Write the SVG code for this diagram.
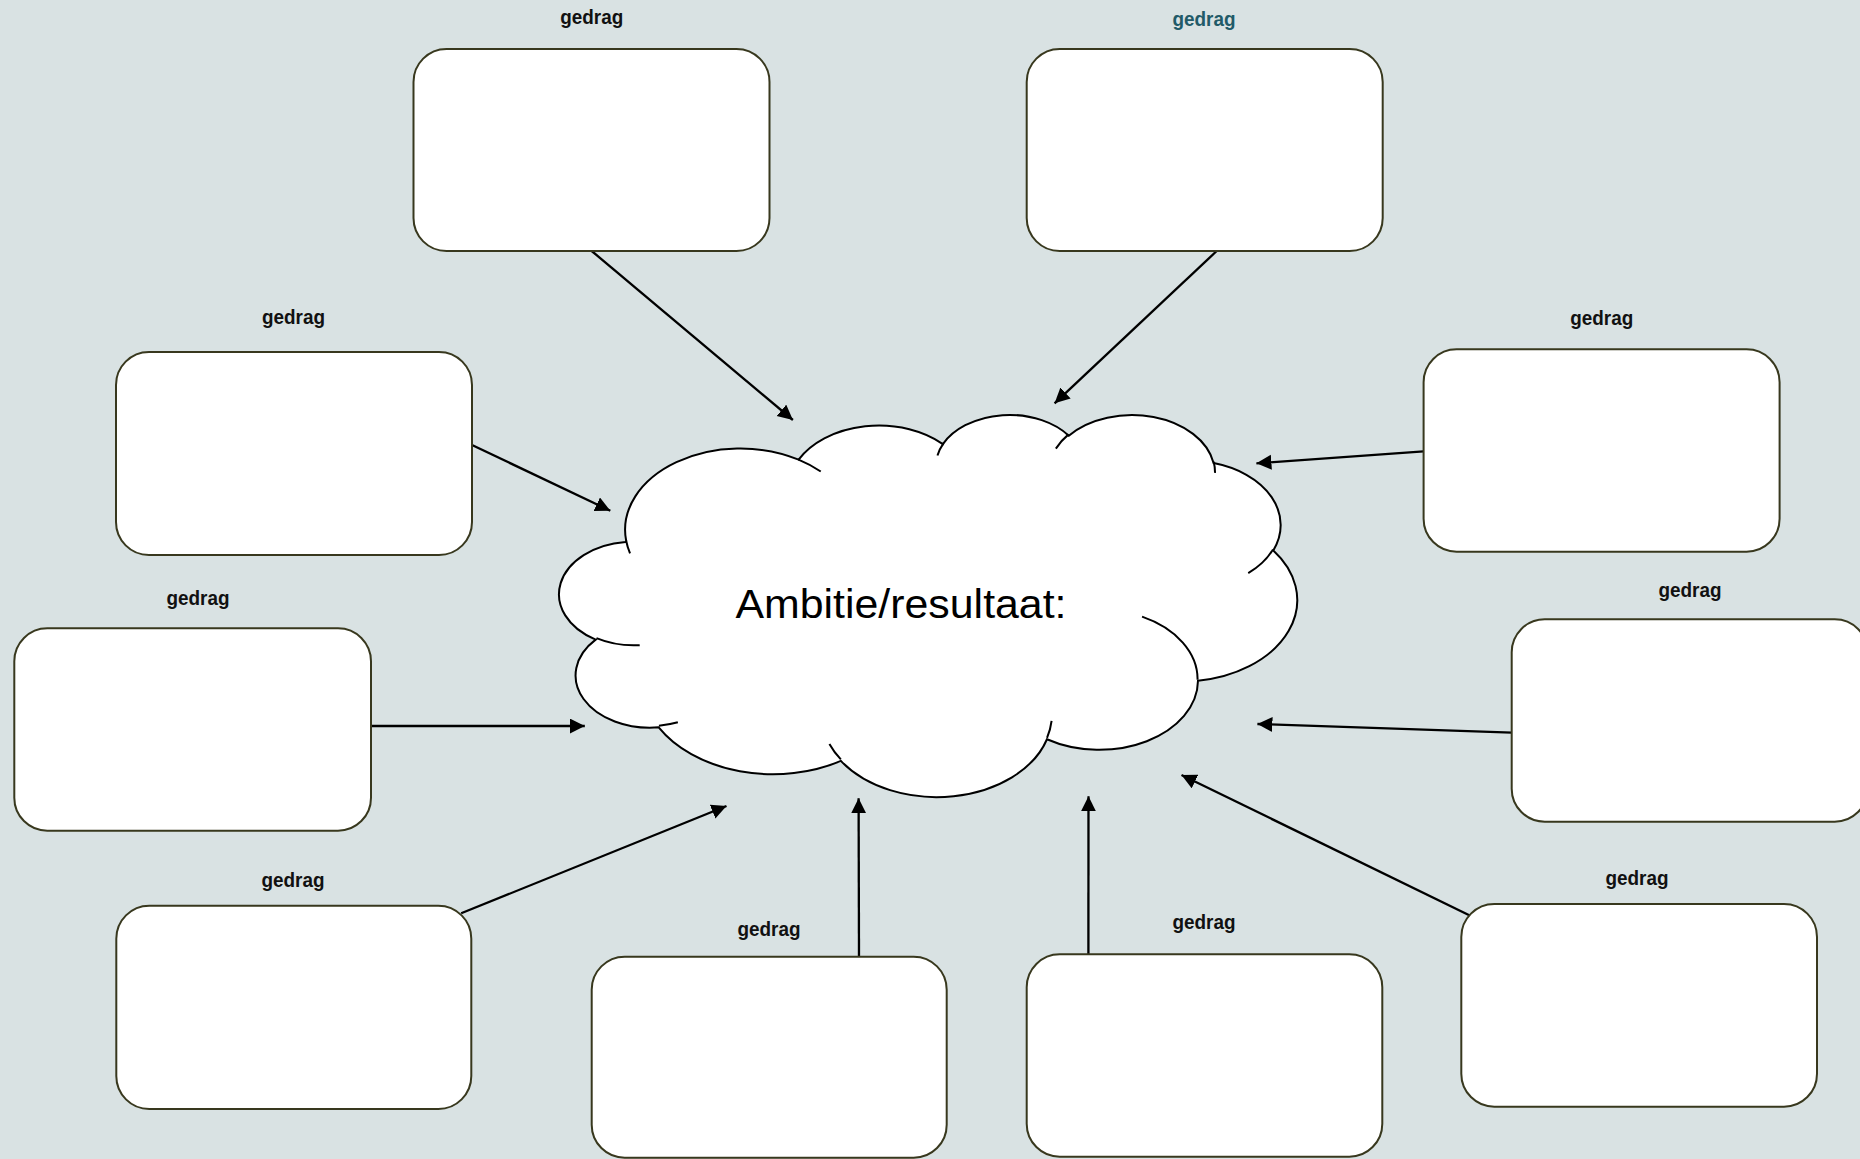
<svg xmlns="http://www.w3.org/2000/svg" width="1860" height="1159" viewBox="0 0 1860 1159">
  <style>
    .box { fill: #ffffff; stroke: #38381e; stroke-width: 2; }
    .lbl { font-family: "Liberation Sans", Arial, sans-serif; font-weight: bold; font-size: 20px; fill: #111111; text-anchor: middle; }
    .teal { fill: #215a68; }
    .conn { stroke: #000000; stroke-width: 2.3; fill: none; marker-end: url(#arrow); }
    .cloud { fill: #ffffff; stroke: #000000; stroke-width: 2; vector-effect: non-scaling-stroke; }
    .tail { fill: none; stroke: #000000; stroke-width: 2; vector-effect: non-scaling-stroke; }
    .title { font-family: "Liberation Sans", Arial, sans-serif; font-size: 41px; fill: #000000; }
  </style>
  <defs>
    <marker id="arrow" markerUnits="userSpaceOnUse" markerWidth="16" markerHeight="16" refX="15" refY="7.5" orient="auto">
      <path d="M0,0 L15,7.5 L0,15 Z" fill="#000000"/>
    </marker>
  </defs>
  <rect x="0" y="0" width="1860" height="1159" fill="#d9e2e3"/>

  <g id="cloud">
    <g transform="translate(559.6,413.7) scale(0.017067,0.0088426)">
      <path class="cloud" d="M 3900 14370 A 6753 9190 0 0 1 14005 5202 A 5333 7267 0 0 1 22457 3434 A 4365 5945 0 0 1 29834 2482 A 4857 6595 0 0 1 38319 5578 A 5333 7273 0 0 1 41819 15461 A 6775 9220 0 0 1 37405 30204 A 5785 7867 0 0 1 28556 36814 A 6752 9215 0 0 1 16482 39267 A 7720 10543 0 0 1 5806 35472 A 4360 5918 0 0 1 2114 25550 A 4345 5945 0 0 1 3864 14506 Z"/>
      <path class="tail" d="M 4693 26177 A 4345 5945 0 0 1 2160 25380 M 6928 34899 A 4360 5918 0 0 1 5820 35280 M 16478 39090 A 6752 9215 0 0 1 15809 37348 M 28827 34751 A 6752 9215 0 0 1 28560 36660 M 34129 22954 A 5785 7867 0 0 1 37381 30090 M 41798 15354 A 5333 7273 0 0 1 40350 18031 M 38324 5426 A 4857 6595 0 0 1 38401 6690 M 29078 3952 A 4857 6595 0 0 1 29821 2339 M 22141 4720 A 4365 5945 0 0 1 22500 3331 M 14000 5192 A 6753 9190 0 0 1 15301 6542 M 4127 15789 A 6753 9190 0 0 1 3900 14370"/>
    </g>
    <text class="title" x="735.5" y="618" textLength="331" lengthAdjust="spacingAndGlyphs">Ambitie/resultaat:</text>
  </g>

  <g id="connectors">
    <line class="conn" x1="591.7" y1="251" x2="792.9" y2="420"/>
    <line class="conn" x1="1216.7" y1="251" x2="1054.6" y2="403.3"/>
    <line class="conn" x1="472" y1="445" x2="610.3" y2="510.7"/>
    <line class="conn" x1="1423.6" y1="451.3" x2="1256.4" y2="463.3"/>
    <line class="conn" x1="371" y1="726" x2="584.8" y2="726"/>
    <line class="conn" x1="1511.7" y1="732.7" x2="1257.4" y2="724"/>
    <line class="conn" x1="461.2" y1="913.3" x2="726.5" y2="806"/>
    <line class="conn" x1="859" y1="956.7" x2="858.6" y2="798.3"/>
    <line class="conn" x1="1088.4" y1="954.3" x2="1088.5" y2="796.3"/>
    <line class="conn" x1="1470.3" y1="915.7" x2="1181.5" y2="775"/>
  </g>

  <g id="node-top-left">
    <rect class="box" x="413.5" y="49" width="356" height="202" rx="33" ry="33"/>
    <text class="lbl" x="591.7" y="24" textLength="63" lengthAdjust="spacingAndGlyphs">gedrag</text>
  </g>
  <g id="node-top-right">
    <rect class="box" x="1026.7" y="49" width="356" height="202" rx="33" ry="33"/>
    <text class="lbl teal" x="1204" y="26" textLength="63" lengthAdjust="spacingAndGlyphs">gedrag</text>
  </g>
  <g id="node-left-upper">
    <rect class="box" x="116" y="352" width="356" height="203" rx="33" ry="33"/>
    <text class="lbl" x="293.5" y="324" textLength="63" lengthAdjust="spacingAndGlyphs">gedrag</text>
  </g>
  <g id="node-right-upper">
    <rect class="box" x="1423.6" y="349.3" width="356" height="202.4" rx="33" ry="33"/>
    <text class="lbl" x="1601.7" y="325" textLength="63" lengthAdjust="spacingAndGlyphs">gedrag</text>
  </g>
  <g id="node-left-middle">
    <rect class="box" x="14.3" y="628.3" width="356.7" height="202.4" rx="33" ry="33"/>
    <text class="lbl" x="198" y="605" textLength="63" lengthAdjust="spacingAndGlyphs">gedrag</text>
  </g>
  <g id="node-right-middle">
    <rect class="box" x="1511.7" y="619.3" width="356" height="202.4" rx="33" ry="33"/>
    <text class="lbl" x="1690" y="597" textLength="63" lengthAdjust="spacingAndGlyphs">gedrag</text>
  </g>
  <g id="node-left-lower">
    <rect class="box" x="116.3" y="905.7" width="355" height="203.3" rx="33" ry="33"/>
    <text class="lbl" x="293" y="887" textLength="63" lengthAdjust="spacingAndGlyphs">gedrag</text>
  </g>
  <g id="node-right-lower">
    <rect class="box" x="1461.3" y="904" width="355.7" height="202.7" rx="33" ry="33"/>
    <text class="lbl" x="1637" y="885" textLength="63" lengthAdjust="spacingAndGlyphs">gedrag</text>
  </g>
  <g id="node-bottom-left">
    <rect class="box" x="591.7" y="956.7" width="355" height="201" rx="33" ry="33"/>
    <text class="lbl" x="769" y="936" textLength="63" lengthAdjust="spacingAndGlyphs">gedrag</text>
  </g>
  <g id="node-bottom-right">
    <rect class="box" x="1026.7" y="954.3" width="355.6" height="202.4" rx="33" ry="33"/>
    <text class="lbl" x="1204" y="929" textLength="63" lengthAdjust="spacingAndGlyphs">gedrag</text>
  </g>
</svg>
